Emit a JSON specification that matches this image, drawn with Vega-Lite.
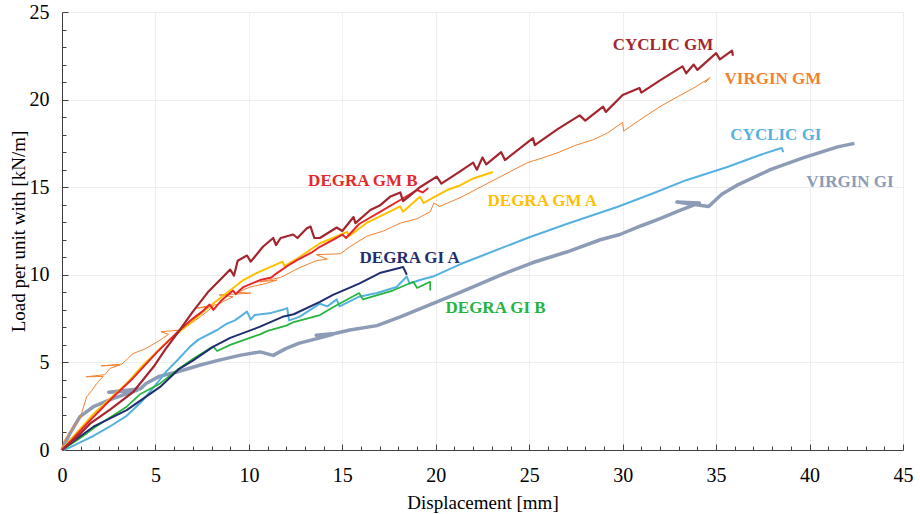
{
  "$schema": "https://vega.github.io/schema/vega-lite/v6.json",
  "width": 841,
  "height": 438,
  "autosize": "none",
  "padding": {"left": 62, "top": 12, "right": 17, "bottom": 64},
  "background": "white",
  "config": {
    "view": {"stroke": null},
    "font": "Liberation Serif"
  },
  "datasets": {
    "cgm": [{"x":0,"y":0},{"x":0.5,"y":0.45},{"x":1.0,"y":0.95},{"x":1.5,"y":1.5},{"x":2.57,"y":2.3},{"x":3.8,"y":3.3},{"x":4.9,"y":4.75},{"x":5.5,"y":5.7},{"x":6.2,"y":6.7},{"x":7.0,"y":7.9},{"x":7.8,"y":9.0},{"x":8.45,"y":9.7},{"x":9.0,"y":10.3},{"x":9.2,"y":9.95},{"x":9.4,"y":10.8},{"x":9.9,"y":11.1},{"x":10.1,"y":10.75},{"x":10.75,"y":11.6},{"x":11.3,"y":12.1},{"x":11.45,"y":11.7},{"x":11.7,"y":12.1},{"x":12.37,"y":12.3},{"x":12.6,"y":12.1},{"x":13.1,"y":12.66},{"x":13.3,"y":12.75},{"x":13.5,"y":12.1},{"x":13.8,"y":12.1},{"x":14.7,"y":12.7},{"x":15.0,"y":12.5},{"x":15.6,"y":13.3},{"x":15.7,"y":12.95},{"x":16.5,"y":13.7},{"x":17.0,"y":13.95},{"x":17.55,"y":14.45},{"x":18.1,"y":14.7},{"x":18.25,"y":14.2},{"x":18.6,"y":14.5},{"x":19.15,"y":15.0},{"x":20.05,"y":15.6},{"x":20.3,"y":15.2},{"x":21.3,"y":15.9},{"x":22.0,"y":16.4},{"x":22.2,"y":16.0},{"x":22.5,"y":16.7},{"x":22.7,"y":16.3},{"x":23.5,"y":17.0},{"x":23.7,"y":16.55},{"x":25.2,"y":17.8},{"x":25.3,"y":17.4},{"x":26.5,"y":18.3},{"x":27.7,"y":19.1},{"x":28.0,"y":18.8},{"x":28.95,"y":19.6},{"x":29.1,"y":19.3},{"x":30.0,"y":20.26},{"x":30.9,"y":20.66},{"x":31.0,"y":20.4},{"x":32.0,"y":21.1},{"x":33.2,"y":21.9},{"x":33.4,"y":21.5},{"x":33.8,"y":22.0},{"x":34.0,"y":21.7},{"x":35.0,"y":22.65},{"x":35.2,"y":22.3},{"x":35.85,"y":22.8},{"x":35.9,"y":22.5}],
    "vgm": [{"x":0,"y":0},{"x":0.1,"y":0.5},{"x":0.25,"y":0.76},{"x":0.6,"y":1.3},{"x":0.96,"y":1.8},{"x":1.32,"y":3.04},{"x":1.6,"y":3.4},{"x":1.86,"y":3.8},{"x":2.2,"y":4.2},{"x":1.3,"y":4.18},{"x":2.3,"y":4.3},{"x":2.57,"y":4.66},{"x":3.1,"y":4.85},{"x":2.1,"y":4.8},{"x":3.2,"y":4.9},{"x":3.5,"y":5.2},{"x":3.8,"y":5.5},{"x":4.5,"y":5.8},{"x":5.25,"y":6.27},{"x":5.7,"y":6.6},{"x":5.3,"y":6.75},{"x":6.4,"y":6.85},{"x":7.4,"y":7.6},{"x":8.1,"y":8.2},{"x":7.2,"y":8.1},{"x":8.3,"y":8.3},{"x":9.15,"y":8.75},{"x":8.4,"y":8.85},{"x":10.1,"y":8.95},{"x":9.4,"y":9.0},{"x":10.05,"y":9.3},{"x":10.9,"y":9.5},{"x":11.5,"y":9.7},{"x":10.6,"y":9.6},{"x":11.7,"y":9.85},{"x":12.7,"y":10.4},{"x":13.6,"y":10.8},{"x":14.2,"y":10.9},{"x":13.6,"y":11.15},{"x":14.9,"y":11.2},{"x":15.4,"y":11.6},{"x":16.3,"y":12.2},{"x":17.2,"y":12.5},{"x":18.1,"y":12.95},{"x":19.0,"y":13.2},{"x":19.7,"y":13.6},{"x":19.9,"y":14.1},{"x":20.2,"y":13.9},{"x":21.3,"y":14.4},{"x":22.2,"y":14.9},{"x":23.1,"y":15.4},{"x":24.0,"y":15.9},{"x":24.9,"y":16.4},{"x":25.8,"y":16.7},{"x":26.6,"y":17.0},{"x":27.5,"y":17.4},{"x":28.4,"y":17.7},{"x":29.2,"y":18.1},{"x":30.0,"y":18.7},{"x":30.05,"y":18.2},{"x":31.0,"y":18.9},{"x":32.0,"y":19.6},{"x":33.0,"y":20.2},{"x":33.8,"y":20.66},{"x":34.6,"y":21.2},{"x":34.4,"y":20.95},{"x":34.7,"y":21.3}],
    "vgi": [{"x":0,"y":0},{"x":0.43,"y":0.95},{"x":0.96,"y":1.9},{"x":1.68,"y":2.47},{"x":2.75,"y":2.95},{"x":4.0,"y":3.4},{"x":2.5,"y":3.3},{"x":4.2,"y":3.5},{"x":4.5,"y":3.8},{"x":5.2,"y":4.2},{"x":6.15,"y":4.45},{"x":7.4,"y":4.85},{"x":8.3,"y":5.1},{"x":9.5,"y":5.4},{"x":10.6,"y":5.6},{"x":11.3,"y":5.4},{"x":12.0,"y":5.8},{"x":12.7,"y":6.1},{"x":13.8,"y":6.4},{"x":14.5,"y":6.6},{"x":13.6,"y":6.55},{"x":14.6,"y":6.65},{"x":15.4,"y":6.85},{"x":16.85,"y":7.1},{"x":18.1,"y":7.6},{"x":19.7,"y":8.3},{"x":21.3,"y":9.0},{"x":23.5,"y":10.0},{"x":25.2,"y":10.7},{"x":26.1,"y":11.0},{"x":27.0,"y":11.3},{"x":28.8,"y":12.0},{"x":29.85,"y":12.3},{"x":31.0,"y":12.8},{"x":32.0,"y":13.2},{"x":32.9,"y":13.6},{"x":34.1,"y":14.1},{"x":32.9,"y":14.16},{"x":34.6,"y":13.9},{"x":35.3,"y":14.6},{"x":36.1,"y":15.1},{"x":37.9,"y":16.0},{"x":39.65,"y":16.67},{"x":41.5,"y":17.3},{"x":42.4,"y":17.5}],
    "cgi": [{"x":0.1,"y":0},{"x":0.43,"y":0.15},{"x":1.0,"y":0.45},{"x":1.68,"y":0.8},{"x":2.5,"y":1.3},{"x":3.46,"y":1.95},{"x":4.3,"y":2.8},{"x":5.0,"y":3.7},{"x":5.6,"y":4.5},{"x":6.2,"y":5.15},{"x":6.85,"y":5.9},{"x":7.3,"y":6.3},{"x":8.3,"y":6.85},{"x":8.8,"y":7.2},{"x":9.25,"y":7.4},{"x":9.9,"y":7.9},{"x":10.1,"y":7.45},{"x":10.3,"y":7.7},{"x":11.1,"y":7.8},{"x":11.8,"y":8.0},{"x":12.05,"y":8.1},{"x":12.15,"y":7.4},{"x":12.7,"y":7.6},{"x":13.8,"y":8.35},{"x":14.2,"y":8.2},{"x":14.7,"y":8.6},{"x":14.85,"y":8.2},{"x":15.9,"y":8.75},{"x":16.85,"y":8.96},{"x":17.9,"y":9.3},{"x":18.45,"y":9.9},{"x":18.6,"y":9.5},{"x":19.15,"y":9.7},{"x":19.85,"y":9.9},{"x":21.3,"y":10.6},{"x":22.5,"y":11.1},{"x":24.9,"y":12.1},{"x":27.0,"y":12.9},{"x":29.7,"y":13.87},{"x":31.5,"y":14.6},{"x":33.4,"y":15.4},{"x":35.6,"y":16.15},{"x":37.35,"y":16.84},{"x":38.5,"y":17.24},{"x":38.6,"y":17.0}],
    "dgmb": [{"x":0,"y":0},{"x":0.5,"y":0.55},{"x":1.33,"y":1.5},{"x":2.57,"y":2.85},{"x":3.8,"y":4.1},{"x":5.1,"y":5.6},{"x":6.15,"y":6.7},{"x":7.0,"y":7.5},{"x":7.5,"y":7.9},{"x":7.9,"y":8.3},{"x":8.1,"y":8.0},{"x":8.5,"y":8.5},{"x":9.15,"y":9.1},{"x":9.3,"y":8.9},{"x":9.7,"y":9.3},{"x":10.6,"y":9.7},{"x":11.2,"y":9.85},{"x":11.5,"y":10.1},{"x":12.2,"y":10.6},{"x":12.6,"y":10.85},{"x":13.4,"y":11.3},{"x":13.8,"y":11.6},{"x":14.5,"y":12.0},{"x":15.0,"y":12.3},{"x":15.2,"y":12.1},{"x":15.9,"y":12.9},{"x":17.2,"y":13.7},{"x":18.1,"y":14.27},{"x":19.0,"y":14.84},{"x":19.3,"y":14.7},{"x":19.6,"y":14.95}],
    "dgma": [{"x":0,"y":0},{"x":0.3,"y":0.4},{"x":1.68,"y":2.05},{"x":3.46,"y":3.8},{"x":4.35,"y":4.85},{"x":5.6,"y":6.15},{"x":6.85,"y":7.25},{"x":7.9,"y":8.2},{"x":8.8,"y":8.95},{"x":9.7,"y":9.7},{"x":10.4,"y":10.1},{"x":11.8,"y":10.75},{"x":11.9,"y":10.5},{"x":12.7,"y":11.0},{"x":13.8,"y":11.8},{"x":14.5,"y":12.1},{"x":15.25,"y":12.45},{"x":15.35,"y":12.2},{"x":16.3,"y":12.96},{"x":18.1,"y":13.9},{"x":18.25,"y":13.6},{"x":19.15,"y":14.45},{"x":19.35,"y":14.1},{"x":20.6,"y":14.84},{"x":21.3,"y":15.1},{"x":22.0,"y":15.5},{"x":23.06,"y":15.87}],
    "dgia": [{"x":0,"y":0},{"x":1.0,"y":0.8},{"x":1.68,"y":1.33},{"x":3.46,"y":2.28},{"x":5.25,"y":3.6},{"x":6.23,"y":4.6},{"x":7.0,"y":5.1},{"x":8.1,"y":5.9},{"x":9.0,"y":6.4},{"x":10.6,"y":7.04},{"x":11.8,"y":7.6},{"x":12.4,"y":7.75},{"x":13.8,"y":8.45},{"x":14.5,"y":8.85},{"x":15.9,"y":9.5},{"x":17.0,"y":10.1},{"x":18.1,"y":10.4},{"x":18.25,"y":10.45},{"x":18.45,"y":10.0}],
    "dgib": [{"x":0,"y":0},{"x":1.0,"y":0.7},{"x":1.68,"y":1.24},{"x":3.46,"y":2.47},{"x":4.2,"y":3.2},{"x":5.25,"y":3.8},{"x":6.2,"y":4.6},{"x":7.0,"y":5.2},{"x":7.9,"y":5.8},{"x":8.1,"y":5.9},{"x":8.3,"y":5.65},{"x":9.0,"y":6.0},{"x":10.05,"y":6.4},{"x":10.6,"y":6.6},{"x":11.0,"y":6.8},{"x":12.0,"y":7.1},{"x":12.4,"y":7.3},{"x":13.8,"y":7.7},{"x":14.5,"y":8.15},{"x":15.9,"y":8.96},{"x":16.1,"y":8.6},{"x":17.7,"y":9.1},{"x":18.8,"y":9.6},{"x":19.0,"y":9.25},{"x":19.5,"y":9.5},{"x":19.7,"y":9.6},{"x":19.7,"y":9.1}],
    "labels": [
      {"label":"CYCLIC GM","x":32.16,"y":23.1},
      {"label":"VIRGIN GM","x":38.04,"y":21.2},
      {"label":"CYCLIC GI","x":38.2,"y":17.98},
      {"label":"VIRGIN GI","x":42.16,"y":15.3},
      {"label":"DEGRA GM B","x":16.1,"y":15.35},
      {"label":"DEGRA GM A","x":25.7,"y":14.2},
      {"label":"DEGRA GI A","x":18.6,"y":10.96},
      {"label":"DEGRA GI B","x":23.2,"y":8.1}
    ]
  },
  "encoding": {
    "x": {
      "field": "x", "type": "quantitative",
      "scale": {"domain": [0, 45], "nice": false, "zero": true},
      "axis": {
        "title": "Displacement [mm]",
        "values": [0,1,2,3,4,5,6,7,8,9,10,11,12,13,14,15,16,17,18,19,20,21,22,23,24,25,26,27,28,29,30,31,32,33,34,35,36,37,38,39,40,41,42,43,44,45],
        "labelExpr": "datum.value % 5 === 0 ? datum.label : ''",
        "labelFont": "Liberation Serif", "labelFontSize": 20, "labelColor": "#000000",
        "labelPadding": 21,
        "tickSize": {"condition": {"test": "datum.value % 5 === 0", "value": -6}, "value": -4},
        "tickColor": "#404040", "domainColor": "#404040",
        "grid": true,
        "gridColor": "#eeeeee",
        "gridOpacity": {"condition": {"test": "datum.value % 5 === 0", "value": 1}, "value": 0},
        "labelFlush": false,
        "titleFont": "Liberation Serif", "titleFontSize": 19, "titleFontWeight": "normal", "titleColor": "#000000",
        "titlePadding": 8
      }
    },
    "y": {
      "field": "y", "type": "quantitative",
      "scale": {"domain": [0, 25], "nice": false, "zero": true},
      "axis": {
        "title": "Load per unit with [kN/m]",
        "values": [0,1,2,3,4,5,6,7,8,9,10,11,12,13,14,15,16,17,18,19,20,21,22,23,24,25],
        "labelExpr": "datum.value % 5 === 0 ? datum.label : ''",
        "labelFont": "Liberation Serif", "labelFontSize": 20, "labelColor": "#000000",
        "labelPadding": 19,
        "tickSize": {"condition": {"test": "datum.value % 5 === 0", "value": -6}, "value": -4},
        "tickColor": "#404040", "domainColor": "#404040",
        "grid": true,
        "gridColor": "#eeeeee",
        "gridOpacity": {"condition": {"test": "datum.value % 5 === 0", "value": 1}, "value": 0},
        "labelFlush": false,
        "titleFont": "Liberation Serif", "titleFontSize": 19, "titleFontWeight": "normal", "titleColor": "#000000",
        "titlePadding": 1
      }
    }
  },
  "layer": [
    {"data": {"name": "vgi"}, "mark": {"type": "line", "color": "#8d9cb6", "strokeWidth": 3.5, "strokeJoin": "round"}, "encoding": {"order": {"value": null}}},
    {"data": {"name": "vgm"}, "mark": {"type": "line", "color": "#f4812f", "strokeWidth": 1, "strokeJoin": "round"}, "encoding": {"order": {"value": null}}},
    {"data": {"name": "cgi"}, "mark": {"type": "line", "color": "#55b1e0", "strokeWidth": 2, "strokeJoin": "round"}, "encoding": {"order": {"value": null}}},
    {"data": {"name": "dgib"}, "mark": {"type": "line", "color": "#25b53c", "strokeWidth": 1.7, "strokeJoin": "round"}, "encoding": {"order": {"value": null}}},
    {"data": {"name": "dgia"}, "mark": {"type": "line", "color": "#1f2e6e", "strokeWidth": 2, "strokeJoin": "round"}, "encoding": {"order": {"value": null}}},
    {"data": {"name": "dgma"}, "mark": {"type": "line", "color": "#ffc000", "strokeWidth": 2, "strokeJoin": "round"}, "encoding": {"order": {"value": null}}},
    {"data": {"name": "dgmb"}, "mark": {"type": "line", "color": "#e4292b", "strokeWidth": 2, "strokeJoin": "round"}, "encoding": {"order": {"value": null}}},
    {"data": {"name": "cgm"}, "mark": {"type": "line", "color": "#a3262f", "strokeWidth": 2.2, "strokeJoin": "round"}, "encoding": {"order": {"value": null}}},
    {
      "data": {"name": "labels"},
      "mark": {"type": "text", "font": "Liberation Serif", "fontSize": 17, "fontWeight": "bold", "align": "center", "baseline": "middle"},
      "encoding": {
        "text": {"field": "label"},
        "color": {
          "field": "label", "type": "nominal", "legend": null,
          "scale": {
            "domain": ["CYCLIC GM","VIRGIN GM","CYCLIC GI","VIRGIN GI","DEGRA GM B","DEGRA GM A","DEGRA GI A","DEGRA GI B"],
            "range": ["#a3262f","#f4812f","#55b1e0","#8d9cb6","#e4292b","#ffc000","#1f2e6e","#25b53c"]
          }
        }
      }
    }
  ]
}
